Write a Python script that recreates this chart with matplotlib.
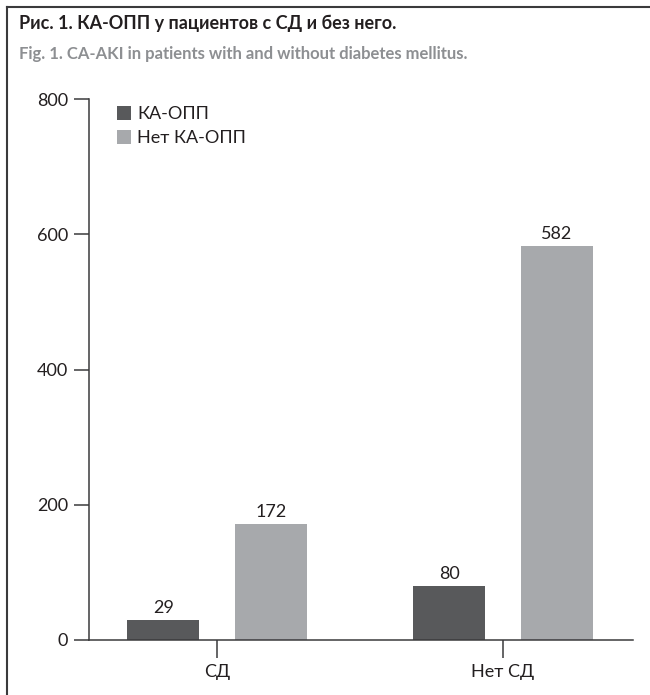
import matplotlib
matplotlib.use("Agg")
import matplotlib.pyplot as plt
from matplotlib.lines import Line2D
from matplotlib.patches import Patch
import numpy as np

categories = ["СД", "Нет СД"]
series_names = ["КА-ОПП", "Нет КА-ОПП"]
aki = [29, 80]
no_aki = [172, 582]
yticks = [0, 200, 400, 600, 800]

title_ru = "Рис. 1. КА-ОПП у пациентов с СД и без него."
title_en = "Fig. 1. CA-AKI in patients with and without diabetes mellitus."

dark = "#58595b"
light = "#a7a9ac"
txt = "#231f20"
axc = "#3a3a3c"

plt.rcParams['font.family'] = ['Lato', 'DejaVu Sans']

fig = plt.figure(figsize=(6.5, 6.95), dpi=100)
W, H = 650, 695
ax = fig.add_axes([89 / W, (H - 640) / H, (633 - 89) / W, (640 - 99) / H])

x = np.arange(len(categories))
bw = 0.251
off = 0.188
b1 = ax.bar(x - off, aki, bw, color=dark, label=series_names[0])
b2 = ax.bar(x + off, no_aki, bw, color=light, label=series_names[1])

for bars, vals in ((b1, aki), (b2, no_aki)):
    for r, v in zip(bars, vals):
        ax.annotate(str(v), (r.get_x() + r.get_width() / 2, v), xytext=(0, 3),
                    textcoords="offset points", ha="center", va="bottom",
                    fontsize=13, color=txt)

ax.set_xlim(-0.448, 1.455)
ax.set_ylim(0, 800)
ax.set_yticks(yticks)
ax.set_xticks(x)
ax.set_xticklabels(categories)
for s in ("top", "right"):
    ax.spines[s].set_visible(False)
for s in ("left", "bottom"):
    ax.spines[s].set_color(axc)
    ax.spines[s].set_linewidth(1.1)
ax.tick_params(axis="y", length=11, width=1.1, color=axc, labelsize=13, labelcolor=txt, pad=4)
ax.tick_params(axis="x", length=13, width=1.1, color=axc, labelsize=13, labelcolor=txt, pad=4)

handles = [Patch(facecolor=dark, edgecolor="none"), Patch(facecolor=light, edgecolor="none")]
ax.legend(handles, series_names, loc="upper left", bbox_to_anchor=(0.045, 0.993),
          frameon=False, fontsize=13, handlelength=0.78, handleheight=0.78,
          handletextpad=0.35, labelspacing=0.42, borderaxespad=0.0, borderpad=0.2,
          labelcolor=txt)

fig.text(19 / W, 1 - 23 / H, title_ru, fontsize=13.0, fontweight="bold", color=txt, va="center", ha="left")
fig.text(19 / W, 1 - 54 / H, title_en, fontsize=12.0, fontweight="bold", color="#8d8f92", va="center", ha="left")

# border
fig.add_artist(Line2D([7 / W, 7 / W], [0, 1 - 7 / H], transform=fig.transFigure, color="#3a3a3c", lw=1.5))
fig.add_artist(Line2D([7 / W, 1], [1 - 7 / H, 1 - 7 / H], transform=fig.transFigure, color="#3a3a3c", lw=1.5))

fig.savefig("out.png", dpi=100)
